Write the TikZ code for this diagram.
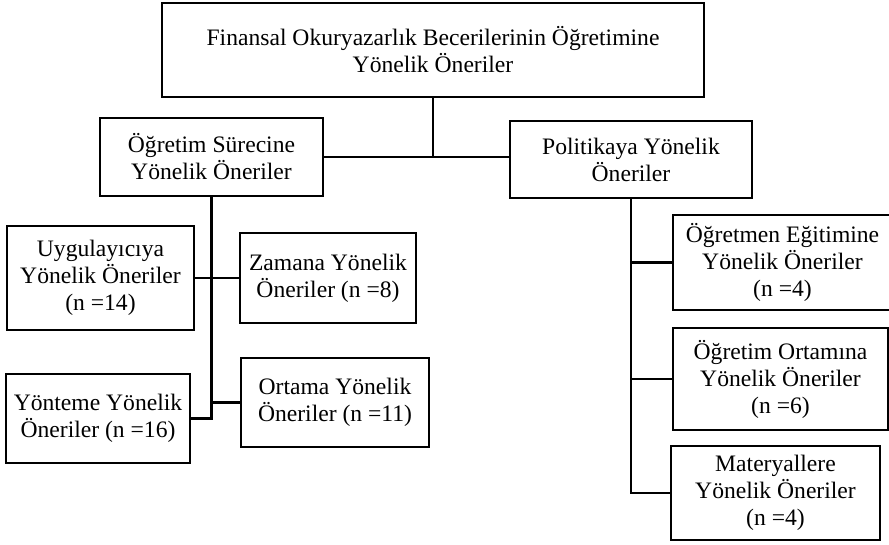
\documentclass[tikz,border=0pt]{standalone}
\usepackage{fontspec}
\setmainfont{Liberation Serif}
\begin{document}
\begin{tikzpicture}[x=1pt,y=-1pt,
  box/.style={draw, line width=2.8pt, fill=white, align=center, inner sep=0pt,
    font=\fontsize{23.6}{27}\selectfont},
  link/.style={line width=2.8pt}]
\useasboundingbox (0,0) rectangle (889,544);
\node[box, minimum width=542pt, minimum height=94pt] (top) at (433,50) {Finansal Okuryazarlık Becerilerinin Öğretimine\\Yönelik Öneriler};
\node[box, minimum width=223pt, minimum height=78pt] (ogs) at (211.5,157) {Öğretim Sürecine\\Yönelik Öneriler};
\node[box, minimum width=242pt, minimum height=77pt] (pol) at (631,159.5) {Politikaya Yönelik\\Öneriler};
\node[box, minimum width=187pt, minimum height=104pt] (uyg) at (100.5,278) {Uygulayıcıya\\Yönelik Öneriler\\(n =14)};
\node[box, minimum width=176pt, minimum height=90pt] (zam) at (328,278) {Zamana Yönelik\\Öneriler (n =8)};
\node[box, minimum width=184pt, minimum height=89pt] (yon) at (98,418.5) {Yönteme Yönelik\\Öneriler (n =16)};
\node[box, minimum width=188pt, minimum height=89pt] (ort) at (335,402.5) {Ortama Yönelik\\Öneriler (n =11)};
\node[box, minimum width=219pt, minimum height=95pt] (ogm) at (782.5,262.5) {Öğretmen Eğitimine\\Yönelik Öneriler\\(n =4)};
\node[box, minimum width=215pt, minimum height=102pt] (oo) at (780.5,379) {Öğretim Ortamına\\Yönelik Öneriler\\(n =6)};
\node[box, minimum width=209pt, minimum height=94pt] (mat) at (775.5,493) {Materyallere\\Yönelik Öneriler\\(n =4)};
\draw[link] (ogs.east) -- (pol.west |- ogs.east);
\draw[link] (top.south) -- (top.south |- ogs.east);
\draw[link] (ogs.south) -- (ogs.south |- yon.east) -- (yon.east);
\draw[link] (uyg.east) -- (zam.west);
\draw[link] (ogs.south |- ort.west) -- (ort.west);
\draw[link] (pol.south) -- (pol.south |- mat.west) -- (mat.west);
\draw[link] (pol.south |- ogm.west) -- (ogm.west);
\draw[link] (pol.south |- oo.west) -- (oo.west);
\end{tikzpicture}
\end{document}
